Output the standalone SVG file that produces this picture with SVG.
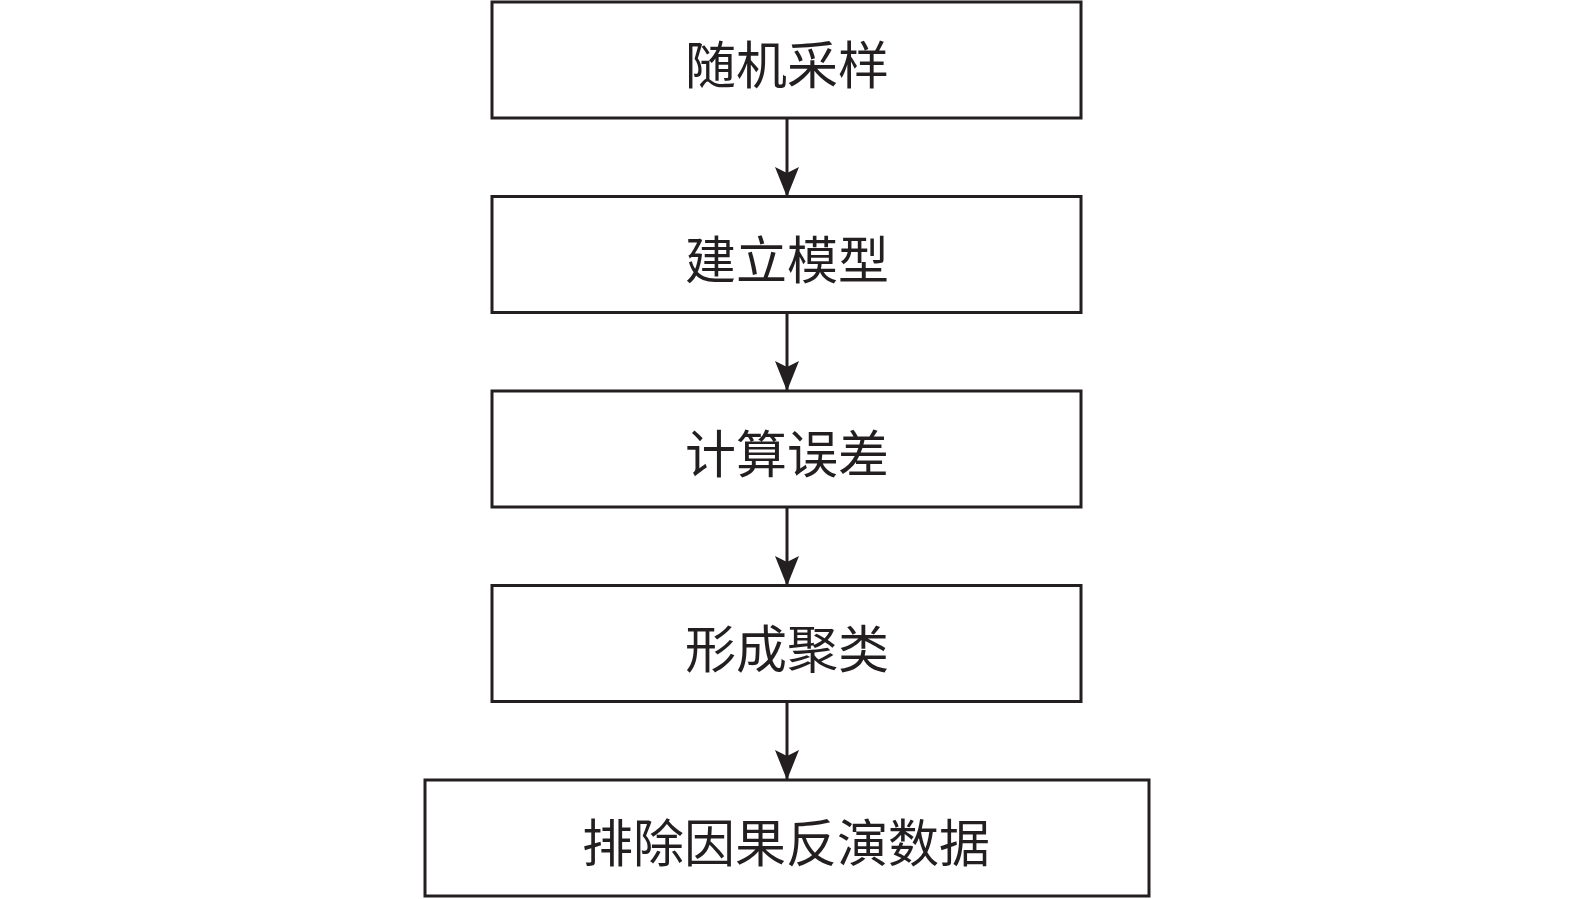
<svg xmlns="http://www.w3.org/2000/svg" width="1575" height="899" viewBox="0 0 1575 899">
<style>
.box{fill:#fff;stroke:#231f20;stroke-width:3}
.lbl{font-family:"Noto Sans CJK SC","Noto Sans CJK JP",sans-serif;font-size:51px;fill:#231f20;text-anchor:middle;dominant-baseline:central}
.conn{stroke:#231f20;stroke-width:3;fill:none}
</style>
<defs>
<marker id="ah" markerUnits="userSpaceOnUse" markerWidth="30" markerHeight="26" refX="29" refY="12" orient="auto" viewBox="0 0 30 24">
<path d="M0,0 L6,12 L0,24 L30,12 Z" fill="#231f20"/>
</marker>
</defs>
<rect width="1575" height="899" fill="#fff"/>
<g id="connectors">
<line class="conn" x1="787" y1="118" x2="787" y2="196" marker-end="url(#ah)"/>
<line class="conn" x1="787" y1="312" x2="787" y2="390" marker-end="url(#ah)"/>
<line class="conn" x1="787" y1="507" x2="787" y2="585" marker-end="url(#ah)"/>
<line class="conn" x1="787" y1="701" x2="787" y2="779" marker-end="url(#ah)"/>
</g>
<g id="n1"><rect class="box" x="492" y="2" width="589" height="116"/><text class="lbl" x="787" y="62">随机采样</text></g>
<g id="n2"><rect class="box" x="492" y="196.5" width="589" height="116"/><text class="lbl" x="787" y="256.5">建立模型</text></g>
<g id="n3"><rect class="box" x="492" y="391" width="589" height="116"/><text class="lbl" x="787" y="451">计算误差</text></g>
<g id="n4"><rect class="box" x="492" y="585.5" width="589" height="116"/><text class="lbl" x="787" y="645.5">形成聚类</text></g>
<g id="n5"><rect class="box" x="425" y="780" width="724" height="116"/><text class="lbl" x="786" y="840">排除因果反演数据</text></g>
</svg>
